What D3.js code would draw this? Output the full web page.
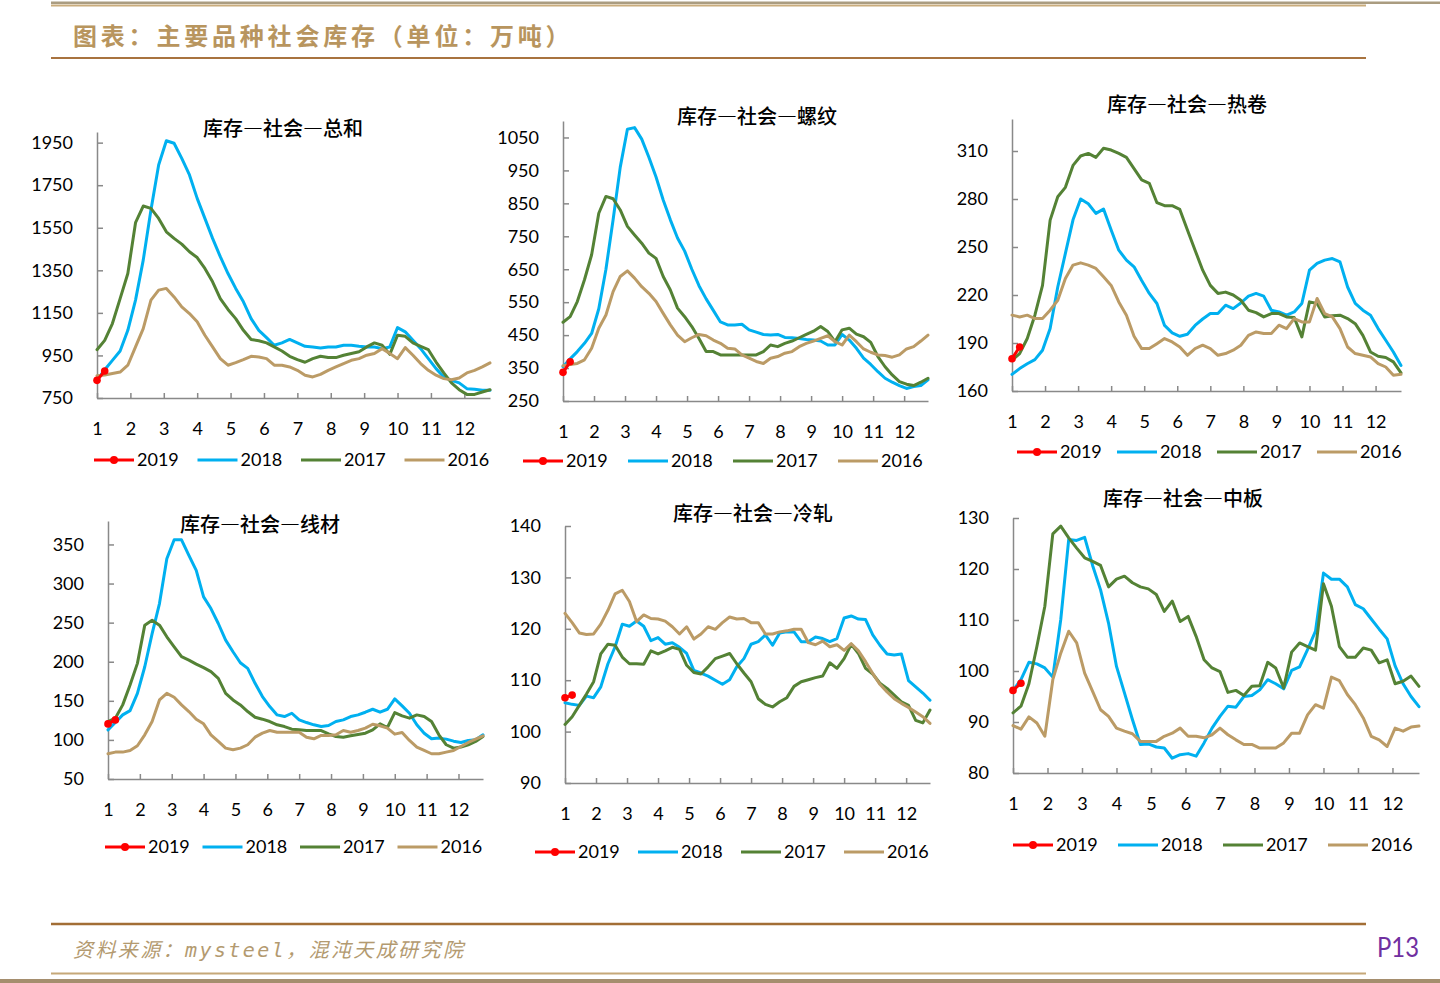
<!DOCTYPE html>
<html lang="zh-CN">
<head>
<meta charset="utf-8">
<title>主要品种社会库存</title>
<script src="https://cdn.jsdelivr.net/npm/d3@7"></script>
<style>
  html, body { margin: 0; padding: 0; background: #fff; }
  svg { display: block; }
</style>
</head>
<body>
<svg id="grafico"></svg>
<script>
const WIDTH = 1440,
    HEIGHT = 983;

// ---- datos (万吨, semanal) ----
const years = ["2019", "2018", "2017", "2016"];
const months = [1, 2, 3, 4, 5, 6, 7, 8, 9, 10, 11, 12];
const pageTitle = "图表：主要品种社会库存（单位：万吨）";
const sourceText = "资料来源：mysteel，混沌天成研究院";
const pageNumber = "P13";

const titles = ["库存—社会—总和", "库存—社会—螺纹", "库存—社会—热卷",
    "库存—社会—线材", "库存—社会—冷轧", "库存—社会—中板"];

const totalTicks = [750, 950, 1150, 1350, 1550, 1750, 1950];
const total2019 = [833, 877];
const total2018 = [833, 883, 927, 971, 1068, 1210, 1398, 1633, 1845, 1959, 1947, 1876, 1798, 1688, 1594, 1500, 1414, 1335, 1265, 1202,
    1123, 1068, 1034, 998, 1009, 1025, 1009, 993, 990, 985, 990, 990, 998, 998, 993, 990, 990, 982, 990, 1081,
    1061, 1021, 982, 935, 888, 849, 833, 821, 794, 791, 786, 786];
const total2017 = [977, 1021, 1100, 1217, 1335, 1574, 1652, 1641, 1594, 1531, 1500, 1473, 1437, 1410, 1359, 1296, 1217, 1166, 1123, 1068,
    1025, 1019, 1009, 990, 971, 946, 930, 918, 935, 946, 940, 940, 951, 959, 967, 990, 1009, 998, 955, 1045,
    1040, 1009, 993, 977, 919, 868, 821, 789, 767, 767, 778, 789];
const total2016 = [855, 858, 865, 872, 904, 990, 1076, 1210, 1257, 1265, 1225, 1178, 1147, 1108, 1045, 990, 935, 904, 916, 930,
    946, 943, 935, 904, 904, 896, 880, 857, 849, 861, 880, 896, 912, 927, 935, 951, 959, 982, 959, 935,
    987, 951, 912, 880, 857, 841, 836, 844, 868, 880, 896, 915];

const rebarTicks = [250, 350, 450, 550, 650, 750, 850, 950, 1050];
const rebar2019 = [337, 369];
const rebar2018 = [354, 378, 400, 425, 455, 530, 650, 800, 960, 1075, 1080, 1045, 990, 930, 860, 800, 745, 705, 650, 600,
    560, 525, 490, 481, 481, 483, 466, 459, 452, 450, 452, 443, 442, 440, 437, 435, 432, 420, 420, 452,
    435, 410, 380, 361, 339, 319, 307, 297, 288, 294, 297, 314];
const rebar2017 = [489, 506, 552, 618, 694, 820, 871, 864, 830, 780, 754, 729, 699, 683, 628, 587, 532, 506, 476, 440,
    400, 400, 390, 390, 390, 390, 390, 390, 400, 420, 415, 425, 432, 442, 452, 462, 476, 461, 430, 466,
    471, 453, 445, 428, 385, 354, 329, 309, 301, 297, 307, 319];
const rebar2016 = [357, 361, 364, 375, 410, 471, 511, 582, 628, 645, 623, 597, 577, 552, 516, 481, 450, 430, 442, 452,
    448, 435, 425, 410, 408, 390, 380, 370, 364, 380, 385, 395, 400, 415, 425, 432, 440, 448, 430, 420,
    450, 430, 408, 398, 390, 388, 383, 390, 408, 415, 432, 450];

const hotCoilTicks = [160, 190, 220, 250, 280, 310];
const hotCoil2019 = [180.2, 187.5];
const hotCoil2018 = [170.4, 174, 177, 179.6, 185.5, 199, 225, 246, 267, 280, 277, 271, 273.7, 260.6, 248, 241.8, 237.6, 229, 221, 214.7,
    201, 196.3, 194.2, 195.5, 201, 205, 208.4, 208.4, 213.6, 211.5, 215, 219.3, 221, 219.3, 210.5, 209.4, 207.4, 209.4, 214.7, 235.5,
    239.7, 241.8, 242.8, 240.7, 225, 214.7, 210.5, 207.4, 199, 191.7, 184.4, 176];
const hotCoil2017 = [179.2, 183.4, 192.8, 207.4, 226, 266.8, 281.4, 287.3, 301, 306.9, 308.5, 306, 311.7, 310.6, 308.5, 306, 299, 291.9, 289.8, 277.7,
    275.8, 275.8, 273.5, 260.6, 248, 235.5, 226, 221, 221.8, 220, 216.7, 210.5, 209, 206.3, 208.4, 208.4, 206.3, 205.9, 193.8, 215.7,
    214.7, 206.3, 207, 207.4, 205.3, 202.1, 194.8, 184.4, 181.7, 180.9, 178.2, 171.3];
const hotCoil2016 = [207.4, 206.3, 207.4, 205.3, 205.3, 210.5, 216.7, 230.3, 238.7, 240.1, 238.7, 236.6, 231.4, 226, 215.7, 207.4, 194.2, 186.5, 186.5, 189.6,
    192.8, 190.7, 187.5, 182.3, 186.5, 188.6, 186.5, 182.3, 183.4, 185.5, 188.6, 194.8, 196.9, 195.9, 195.9, 201.1, 199, 205.3, 203.2, 203.2,
    217.8, 208.4, 206.3, 199, 187.5, 183.4, 182.3, 181.3, 177.1, 175, 169.8, 170.4];

const wireTicks = [50, 100, 150, 200, 250, 300, 350];
const wire2019 = [120.5, 125.6];
const wire2018 = [112.9, 122.2, 132, 137.5, 159.6, 193.6, 236, 274.4, 331.8, 356, 356, 336, 316.9, 282.9, 268, 248.9, 227.6, 212.8, 198.7, 191.5,
    172.4, 155.4, 142.6, 132, 129.9, 134.1, 125.6, 122.2, 119.3, 117.1, 118.4, 123.5, 125.6, 129.9, 132, 135.4, 139.2, 135.4, 139.2, 152.4,
    143.5, 134.1, 119.3, 108.6, 101.4, 102.3, 101, 98.4, 96.7, 99.3, 100.1, 106.5];
const wire2017 = [123.5, 127.8, 144.8, 170.3, 197.9, 246.8, 253.1, 246.8, 231.9, 219.1, 206.4, 202.1, 197, 192.4, 187.3, 178.8, 159.6, 151.1, 144.8, 136.3,
    129, 126.5, 123.5, 119.3, 117.1, 113.7, 112.9, 112, 112, 112, 107.8, 104.4, 103.5, 105.2, 106.9, 108.6, 112.9, 120.6, 115.9, 135,
    130.7, 127.8, 132, 129.9, 123.5, 106.5, 93.8, 89.5, 90.8, 93.8, 98, 104.4];
const wire2016 = [82.3, 84.4, 84.4, 86.5, 92.5, 106.5, 123.5, 151.1, 159.6, 154.5, 144.8, 136.3, 126.5, 120.6, 106.5, 98, 89.5, 87.4, 89.5, 93.8,
    103.5, 108.6, 112, 109.9, 109.9, 109.9, 109.9, 103.5, 101.4, 105.7, 105.7, 106.5, 112, 109.9, 112, 115, 120.1, 118, 115, 107.4,
    109.5, 99.3, 90.8, 86.5, 82.3, 82.3, 84.4, 86.5, 91.6, 96.7, 101, 105.2];

const coldTicks = [90, 100, 110, 120, 130, 140];
const cold2019 = [106.6, 107.1];
const cold2018 = [105.6, 105.3, 105.1, 106.9, 106.6, 108.7, 113.2, 116.5, 120.9, 120.5, 121.5, 120.5, 117.7, 118.3, 117, 117.3, 116.4, 115.2, 111.9, 111.4,
    110.8, 110, 109.2, 110.1, 112.6, 114.2, 117, 117.5, 118.8, 116.8, 119.2, 119.4, 119.4, 117.5, 117.5, 118.4, 118.1, 117.5, 118.1, 122.1,
    122.5, 121.9, 121.8, 118.8, 116.8, 115.1, 114.9, 115.1, 109.9, 108.7, 107.5, 106.1];
const cold2017 = [101.4, 102.9, 105.1, 107.3, 109.7, 115.1, 117, 116.8, 114.5, 113.2, 113.2, 113.1, 115.7, 115.1, 115.7, 116.4, 116, 112.9, 111.5, 111.2,
    112.6, 114.2, 114.7, 115.2, 113.2, 111.4, 109.7, 106.4, 105.3, 104.8, 105.8, 106.6, 108.8, 109.7, 110.1, 110.5, 110.8, 113.4, 112.3, 114.2,
    117, 115.2, 112.3, 111.2, 109.4, 108.4, 107.1, 105.8, 105.1, 102.2, 101.7, 104.2];
const cold2016 = [123, 121.2, 119.2, 118.9, 119, 120.9, 123.6, 126.8, 127.5, 125.3, 121.4, 122.7, 122, 121.9, 121.5, 120.4, 119, 120.4, 118, 119,
    120.4, 119.9, 121.2, 122.3, 121.9, 122, 121.2, 121.2, 119, 119, 119.4, 119.6, 119.9, 119.9, 117.3, 116.9, 117.6, 116.5, 116.9, 115.8,
    117.1, 115.7, 113.6, 111.3, 109.2, 107.7, 106.4, 105.5, 104.7, 103.8, 102.9, 101.6];

const plateTicks = [80, 90, 100, 110, 120, 130];
const plate2019 = [96.2, 97.6];
const plate2018 = [96.2, 98.3, 101.7, 101.4, 100.6, 98.8, 110.1, 125.8, 125.6, 126.2, 120.7, 115.9, 109.4, 100.9, 95.7, 90.5, 85.6, 85.7, 85.1, 84.9,
    82.9, 83.6, 83.8, 83.3, 85.9, 88.8, 91.1, 93.1, 92.9, 95, 95.2, 96.3, 98.3, 97.5, 96.5, 100.1, 100.8, 104.2, 107.8, 119.2,
    118, 118, 116.5, 113, 112.2, 110.2, 108.2, 106.3, 101, 97.5, 95, 93];
const plate2017 = [91.8, 93.1, 97.5, 104.8, 112.7, 126.9, 128.4, 126.1, 124.1, 122.2, 121.5, 120.7, 116.5, 118, 118.6, 117.3, 116.5, 116.1, 115, 111.7,
    113.7, 109.7, 110.7, 106.8, 102.2, 100.6, 99.9, 95.8, 96.2, 95.2, 97, 97.1, 101.7, 100.6, 96.7, 103.7, 105.5, 104.8, 104.1, 117.1,
    112.7, 104.8, 102.7, 102.7, 104.5, 104.1, 101.6, 102.2, 97.5, 98, 99, 97];
const plate2016 = [89.3, 88.6, 91, 89.8, 87.2, 98.3, 103.5, 107.8, 105.5, 99.6, 96, 92.4, 91.1, 88.8, 88.2, 87.7, 86.2, 86.2, 86.2, 87.2,
    87.8, 88.8, 87.2, 87.2, 86.9, 87.5, 88.8, 87.5, 86.5, 85.6, 85.6, 84.9, 84.9, 84.9, 85.9, 87.8, 87.8, 91.4, 93.4, 92.7,
    98.8, 98.1, 95.4, 93.4, 90.8, 87.2, 86.5, 85.2, 88.8, 88.2, 89, 89.2];

// ---- estilos ----
const colors = { "2019": "#ff0000", "2018": "#00b0f0", "2017": "#548235", "2016": "#bb9b66" };
const FONT_NUM = "Lato, 'Liberation Sans', sans-serif";
const FONT_CJK = "'Noto Sans CJK SC', sans-serif";

// cada panel: posición en pixeles + sus datos
const panels = [
    { title: titles[0], domain: [750, 2000], ticks: totalTicks, series: [total2019, total2018, total2017, total2016],
      left: 97, right: 490, top: 132, bottom: 398, titleX: 283, titleY: 127, legendX: 94, legendStep: 103.5, legendY: 460 },
    { title: titles[1], domain: [250, 1100], ticks: rebarTicks, series: [rebar2019, rebar2018, rebar2017, rebar2016],
      left: 563, right: 928, top: 121, bottom: 401, titleX: 757, titleY: 115, legendX: 523, legendStep: 105, legendY: 461 },
    { title: titles[2], domain: [160, 330], ticks: hotCoilTicks, series: [hotCoil2019, hotCoil2018, hotCoil2017, hotCoil2016],
      left: 1012, right: 1401, top: 119, bottom: 391, titleX: 1187, titleY: 103, legendX: 1017, legendStep: 100, legendY: 452 },
    { title: titles[3], domain: [50, 380], ticks: wireTicks, series: [wire2019, wire2018, wire2017, wire2016],
      left: 108, right: 483, top: 521, bottom: 779, titleX: 260, titleY: 523, legendX: 105, legendStep: 97.5, legendY: 847 },
    { title: titles[4], domain: [90, 140], ticks: coldTicks, series: [cold2019, cold2018, cold2017, cold2016],
      left: 565, right: 930, top: 526, bottom: 783, titleX: 753, titleY: 512, legendX: 535, legendStep: 103, legendY: 852 },
    { title: titles[5], domain: [80, 130], ticks: plateTicks, series: [plate2019, plate2018, plate2017, plate2016],
      left: 1013, right: 1419, top: 518, bottom: 773, titleX: 1183, titleY: 497, legendX: 1013, legendStep: 105, legendY: 845 }
];

const svg = d3.select("#grafico")
    .attr("width", WIDTH)
    .attr("height", HEIGHT)
    .attr("viewBox", `0 0 ${WIDTH} ${HEIGHT}`);

svg.append("rect").attr("width", WIDTH).attr("height", HEIGHT).attr("fill", "#fff");

// cabecera
svg.append("line").attr("x1", 51).attr("x2", WIDTH).attr("y1", 2.8).attr("y2", 2.8)
    .attr("stroke", "#aa9c80").attr("stroke-width", 2.6);
svg.append("line").attr("x1", 51).attr("x2", 1366).attr("y1", 5.4).attr("y2", 5.4)
    .attr("stroke", "#c9ac7c").attr("stroke-width", 2);
svg.append("text")
    .attr("x", 73).attr("y", 34)
    .attr("dominant-baseline", "central")
    .attr("font-family", FONT_CJK).attr("font-size", 24).attr("font-weight", 600)
    .attr("letter-spacing", 3.8)
    .attr("fill", "#b8955e")
    .text(pageTitle);
svg.append("line").attr("x1", 51).attr("x2", 1366).attr("y1", 58).attr("y2", 58)
    .attr("stroke", "#a8733f").attr("stroke-width", 2);

// pie
svg.append("line").attr("x1", 51).attr("x2", 1366).attr("y1", 924).attr("y2", 924)
    .attr("stroke", "#a26e35").attr("stroke-width", 2.5);
svg.append("text")
    .attr("x", 73).attr("y", 950)
    .attr("dominant-baseline", "central")
    .attr("font-family", "'DejaVu Sans Mono', 'Noto Sans CJK SC', monospace")
    .attr("font-size", 20).attr("font-style", "italic")
    .attr("letter-spacing", 2.4)
    .attr("fill", "#b39a70")
    .text(sourceText);
svg.append("text")
    .attr("x", 1377).attr("y", 957)
    .attr("font-family", FONT_NUM).attr("font-size", 26)
    .attr("textLength", 42).attr("lengthAdjust", "spacingAndGlyphs")
    .attr("fill", "#7030a0")
    .text(pageNumber);
svg.append("line").attr("x1", 51).attr("x2", 1366).attr("y1", 973.5).attr("y2", 973.5)
    .attr("stroke", "#c6a878").attr("stroke-width", 2);
svg.append("line").attr("x1", 0).attr("x2", WIDTH).attr("y1", 981).attr("y2", 981)
    .attr("stroke", "#a58e6e").attr("stroke-width", 4);

const weekToMonth = i => 1 + i * 12 / 52;

const drawPanel = (p) => {
    const g = svg.append("g");

    const escalaX = d3.scaleLinear()
        .domain([1, weekToMonth(51)])
        .range([p.left, p.right]);

    const escalaY = d3.scaleLinear()
        .domain(p.domain)
        .range([p.bottom, p.top]);

    // ejes (ticks hacia dentro)
    const ejeY = g.append("g")
        .attr("transform", `translate(${p.left},0)`)
        .call(d3.axisLeft(escalaY).tickValues(p.ticks).tickFormat(d3.format("d"))
            .tickSizeInner(-6).tickSizeOuter(0).tickPadding(24));

    const ejeX = g.append("g")
        .attr("transform", `translate(0,${p.bottom})`)
        .call(d3.axisBottom(escalaX).tickValues(months).tickFormat(d3.format("d"))
            .tickSizeInner(-5).tickSizeOuter(0).tickPadding(24));

    [ejeY, ejeX].forEach(eje => {
        eje.select(".domain").attr("stroke", "#898989").attr("stroke-width", 1.5);
        eje.selectAll(".tick line").attr("stroke", "#898989").attr("stroke-width", 1.5);
        eje.selectAll(".tick text")
            .attr("font-family", FONT_NUM)
            .attr("font-size", 18)
            .attr("fill", "#000");
    });

    // titulo
    g.append("text")
        .attr("x", p.titleX).attr("y", p.titleY)
        .attr("text-anchor", "middle")
        .attr("dominant-baseline", "central")
        .attr("font-family", FONT_CJK).attr("font-size", 20)
        .attr("font-weight", 500)
        .attr("fill", "#000")
        .text(p.title);

    const linea = d3.line()
        .x((d, i) => escalaX(weekToMonth(i)))
        .y(d => escalaY(d));

    // 2018, 2017, 2016 y luego 2019 encima
    [1, 2, 3, 0].forEach(k => {
        g.append("path")
            .datum(p.series[k])
            .attr("d", linea)
            .attr("fill", "none")
            .attr("stroke", colors[years[k]])
            .attr("stroke-width", 3)
            .attr("stroke-linejoin", "round")
            .attr("stroke-linecap", "round");
    });

    g.append("g")
        .selectAll("circle")
        .data(p.series[0])
        .join("circle")
        .attr("cx", (d, i) => escalaX(weekToMonth(i)))
        .attr("cy", d => escalaY(d))
        .attr("r", 3.8)
        .attr("fill", colors["2019"]);

    // leyenda
    const leyenda = g.append("g")
        .selectAll("g")
        .data(years)
        .join("g")
        .attr("transform", (d, i) => `translate(${p.legendX + i * p.legendStep},${p.legendY})`);

    leyenda.append("line")
        .attr("x1", 0).attr("x2", 40)
        .attr("stroke", d => colors[d])
        .attr("stroke-width", 3.2);

    leyenda.filter(d => d === "2019")
        .append("circle")
        .attr("cx", 20).attr("r", 4)
        .attr("fill", colors["2019"]);

    leyenda.append("text")
        .attr("x", 43)
        .attr("dy", "0.36em")
        .attr("font-family", FONT_NUM)
        .attr("font-size", 18)
        .attr("fill", "#000")
        .text(d => d);
};

panels.forEach(drawPanel);
</script>
</body>
</html>
